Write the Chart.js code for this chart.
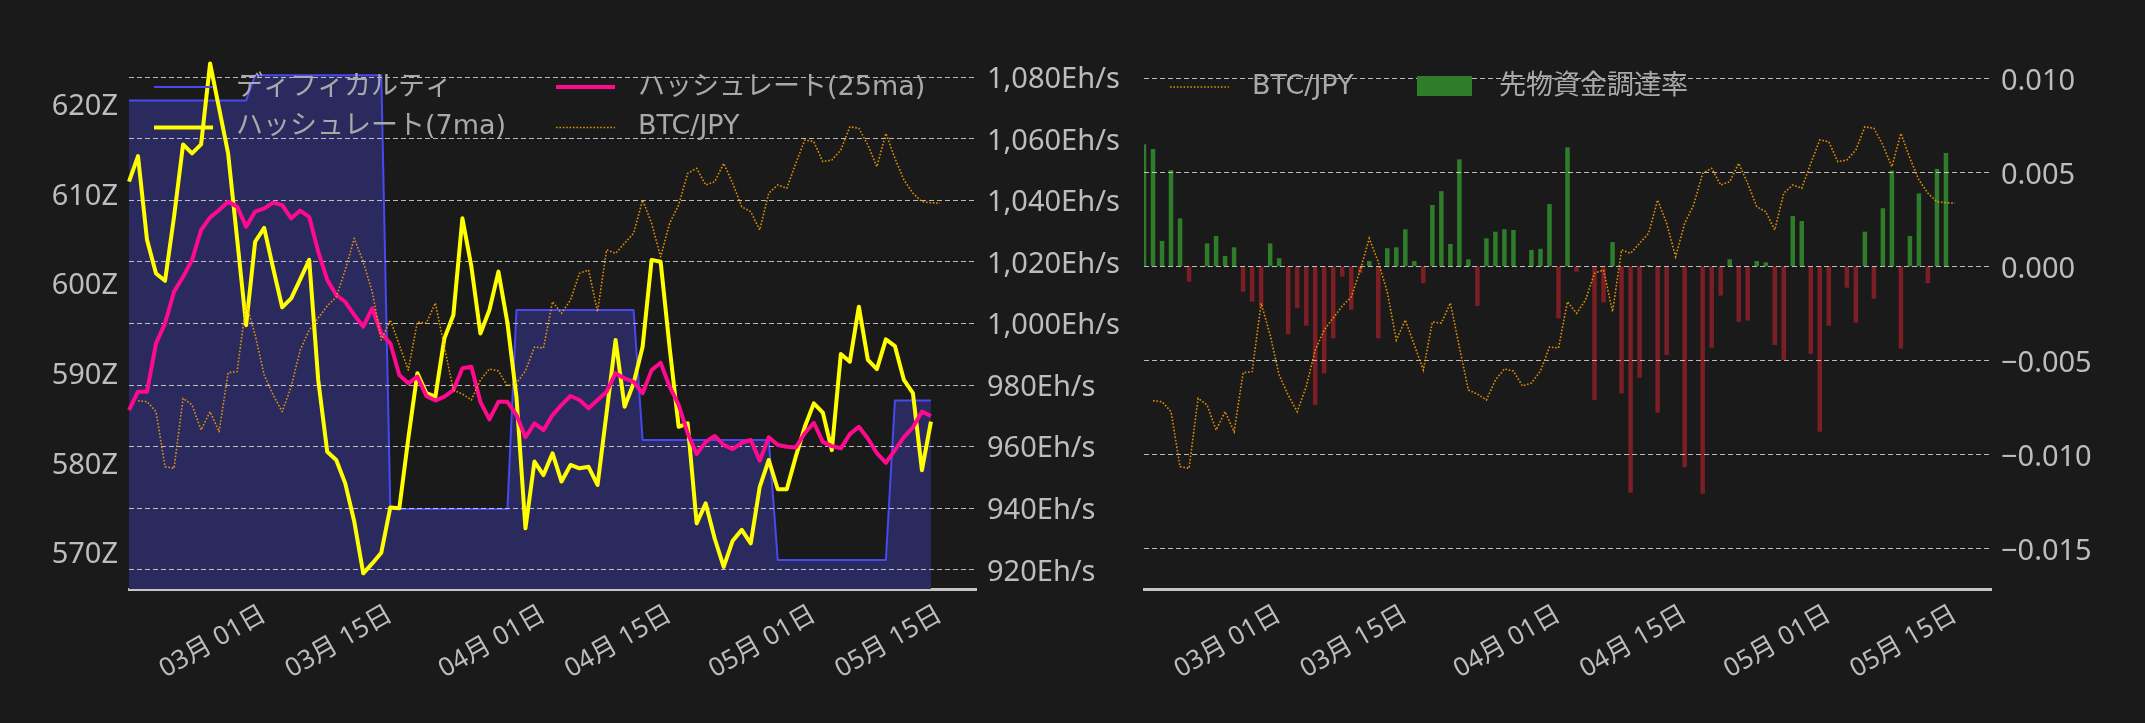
<!DOCTYPE html>
<html lang="ja">
<head>
<meta charset="utf-8">
<title>ハッシュレートと先物資金調達率</title>
<script src="https://cdn.jsdelivr.net/npm/chart.js@4.4.1/dist/chart.umd.min.js"></script>
<style>
  html, body { margin: 0; padding: 0; background: #1a1a1a; }
  body { width: 2145px; height: 723px; position: relative; overflow: hidden; }
  canvas { position: absolute; top: 0; }
  #left { left: 0; }
  #right { left: 1135px; }
</style>
</head>
<body>
<canvas id="left" width="1135" height="723"></canvas>
<canvas id="right" width="1010" height="723"></canvas>
<script>
// days on the x axis, 02/14 .. 05/19
const startDay = Date.UTC(2025, 1, 14);
const dayCount = 95;
const dates = [];
for (let i = 0; i < dayCount; i++) {
  const d = new Date(startDay + i * 86400000);
  dates.push(String(d.getUTCMonth() + 1).padStart(2, "0") + "-" + String(d.getUTCDate()).padStart(2, "0"));
}

// tick labels
const tickDates = ["03-01", "03-15", "04-01", "04-15", "05-01", "05-15"];
const diffTicks = [570, 580, 590, 600, 610, 620];
const hashTicks = [920, 940, 960, 980, 1000, 1020, 1040, 1060, 1080];
const fundTicks = [-0.015, -0.010, -0.005, 0, 0.005, 0.010];

// difficulty (Z), 02/14 .. 05/14
const difficulty = [
  620.4, 620.4, 620.4, 620.4, 620.4, 620.4, 620.4, 620.4, 620.4, 620.4, 620.4, 620.4, 620.4, 620.4,
  623.2, 623.2, 623.2, 623.2, 623.2, 623.2, 623.2, 623.2, 623.2, 623.2, 623.2, 623.2, 623.2, 623.2, 623.2,
  574.8, 574.8, 574.8, 574.8, 574.8, 574.8, 574.8, 574.8, 574.8, 574.8, 574.8, 574.8, 574.8, 574.8,
  597.0, 597.0, 597.0, 597.0, 597.0, 597.0, 597.0, 597.0, 597.0, 597.0, 597.0, 597.0, 597.0, 597.0,
  582.5, 582.5, 582.5, 582.5, 582.5, 582.5, 582.5, 582.5, 582.5, 582.5, 582.5, 582.5, 582.5, 582.5, 582.5,
  569.1, 569.1, 569.1, 569.1, 569.1, 569.1, 569.1, 569.1, 569.1, 569.1, 569.1, 569.1, 569.1,
  586.9, 586.9, 586.9, 586.9, 586.9
];

// hashrate 7 day MA (Eh/s)
const hash7 = [
  1045.9, 1054.2, 1027.0, 1016.1, 1013.7, 1034.5, 1058.0, 1055.1, 1058.0, 1084.3,
  1069.7, 1055.1, 1027.3, 999.3, 1026.4, 1030.9, 1017.8, 1005.1, 1008.0, 1014.2,
  1020.5, 981.5, 958.2, 955.5, 947.9, 935.5, 918.7, 921.9, 925.4, 940.1,
  939.8, 962.6, 983.7, 977.2, 976.1, 995.0, 1002.6, 1034.0, 1018.3, 996.6,
  1004.2, 1016.7, 1000.0, 976.0, 933.3, 955.0, 950.6, 957.7, 948.5, 953.9,
  952.8, 953.3, 947.4, 970.8, 994.5, 972.8, 980.4, 992.3, 1020.5, 1019.9,
  992.0, 966.3, 967.4, 934.9, 941.4, 930.0, 920.8, 929.3, 932.8, 928.4,
  946.8, 955.5, 946.0, 946.0, 956.6, 966.3, 973.9, 970.9, 958.7, 989.9,
  987.4, 1005.3, 988.0, 985.0, 994.7, 992.5, 981.5, 977.2, 952.2, 968.0
];

// hashrate 25 day MA (Eh/s)
const hash25 = [
  971.7, 977.7, 977.7, 993.4, 999.9, 1010.2, 1015.0, 1020.5, 1030.2, 1034.3,
  1036.7, 1039.4, 1037.8, 1031.3, 1036.2, 1037.2, 1039.1, 1038.3, 1034.0, 1036.5,
  1034.5, 1023.2, 1014.0, 1009.1, 1006.9, 1002.6, 998.8, 1004.8, 996.6, 993.4,
  983.1, 980.4, 982.6, 976.3, 974.8, 976.1, 978.2, 985.3, 985.8, 974.4,
  968.7, 974.4, 974.4, 970.1, 962.9, 967.4, 965.2, 970.1, 973.4, 976.3,
  975.0, 972.3, 975.0, 977.7, 983.7, 982.0, 980.9, 977.2, 984.7, 987.1,
  979.3, 973.4, 964.2, 957.4, 961.4, 963.3, 960.4, 959.0, 961.1, 962.0,
  955.3, 962.9, 960.4, 959.8, 959.6, 964.2, 967.6, 961.4, 960.0, 959.3,
  963.9, 966.3, 962.5, 957.7, 954.6, 958.7, 962.9, 966.1, 971.2, 969.8
];

// BTC/JPY close, 02/15 .. 05/15
const btcJpy = [null,
  12750000, 12741000, 12648000, 12137000, 12122000, 12772000, 12710000, 12478000, 12648000, 12462000,
  13010000, 13020000, 13655000, 13361000, 12989000, 12803000, 12648000, 12880000, 13221000, 13407000,
  13519000, 13630000, 13714000, 13965000, 14259000, 14039000, 13760000, 13314000, 13500000, 13268000,
  13035000, 13481000, 13472000, 13658000, 13249000, 12849000, 12812000, 12757000, 12942000, 13045000,
  13026000, 12887000, 12915000, 13026000, 13249000, 13240000, 13670000, 13562000, 13686000, 13934000,
  13965000, 13577000, 14151000, 14120000, 14213000, 14306000, 14615000, 14399000, 14088000, 14399000,
  14569000, 14863000, 14910000, 14755000, 14785000, 14956000, 14770000, 14553000, 14507000, 14336000,
  14678000, 14755000, 14724000, 14956000, 15173000, 15157000, 14971000, 14987000, 15080000, 15296000,
  15282000, 15126000, 14925000, 15235000, 15003000, 14801000, 14678000, 14599000, 14590000, 14585000
];

// futures funding rate, 02/14 .. 05/14
const funding = [
  0.00649, 0.00624, 0.00135, 0.00512, 0.00255, -0.00082, 0, 0.00122, 0.00161, 0.00055,
  0.00101, -0.00135, -0.00188, -0.00215, 0.00122, 0.00043, -0.00362, -0.00223, -0.00316, -0.00738,
  -0.00569, -0.00383, -0.00055, -0.00232, -0.00037, 0.00028, -0.00383, 0.00096, 0.00101, 0.00197,
  0.00028, -0.0009, 0.00326, 0.004, 0.00119, 0.00569, 0.00037, -0.00211, 0.00149, 0.00184,
  0.00197, 0.00193, -0.00005, 0.00087, 0.00093, 0.00331, -0.00277, 0.00633, -0.00029, 0,
  -0.00711, -0.00192, 0.00129, -0.00676, -0.01204, -0.00593, 0.00007, -0.00779, -0.00472, 0,
  -0.01069, 0, -0.0121, -0.00433, -0.00156, 0.00037, -0.00295, -0.00289, 0.00028, 0.00021,
  -0.00419, -0.00498, 0.00268, 0.00241, -0.00466, -0.0088, -0.00316, 0, -0.00114, -0.003,
  0.00184, -0.00172, 0.00309, 0.00509, -0.00438, 0.00161, 0.00388, -0.0009, 0.00518, 0.00603
];

const FONT = '"Noto Sans", "Noto Sans CJK JP", sans-serif';
const LEGEND_FONT = '"DejaVu Sans", "Noto Sans CJK JP", sans-serif';
const TICK_COLOR = "#bdbdbd";
const LEGEND_COLOR = "#a9a9a9";
const GRID_COLOR = "rgba(215,215,215,0.85)";
const BTC_COLOR = "rgba(255,165,0,0.85)";
const BTC_DASH = [1.6, 1.8];

function fixedTicks(list) {
  return (scale) => { scale.ticks = list.map((v) => ({ value: v })); };
}

function dateLabel(i) {
  const d = dates[i];
  if (!tickDates.includes(d)) return "";
  const [m, day] = d.split("-");
  return m + "月 " + day + "日";
}

// grid lines go above the fill / bars but under the lines
const gridAfter = {
  id: "gridAfter",
  afterDatasetDraw(chart, args, opts) {
    if (args.index !== opts.after) return;
    const sc = chart.scales[opts.scale];
    const { left, right } = chart.chartArea;
    const c = chart.ctx;
    c.save();
    c.strokeStyle = GRID_COLOR;
    c.lineWidth = 1.2;
    c.setLineDash([5, 3]);
    sc.ticks.forEach((t) => {
      const y = Math.round(sc.getPixelForValue(t.value)) + 0.5;
      c.beginPath();
      c.moveTo(left, y);
      c.lineTo(right, y);
      c.stroke();
    });
    c.restore();
  }
};

// legend drawn inside the plot, no frame
const legendBox = {
  id: "legendBox",
  afterDraw(chart, args, opts) {
    const c = chart.ctx;
    opts.items.forEach((it) => {
      const ds = chart.data.datasets[it.ds];
      c.save();
      if (it.patch) {
        c.fillStyle = it.color;
        c.fillRect(it.x, it.y - 10, 55, 20);
      } else {
        c.strokeStyle = it.color;
        c.lineWidth = it.width;
        c.setLineDash(it.dash || []);
        c.beginPath();
        c.moveTo(it.x, it.y);
        c.lineTo(it.x + 59, it.y);
        c.stroke();
      }
      c.setLineDash([]);
      c.fillStyle = LEGEND_COLOR;
      c.font = "27px " + LEGEND_FONT;
      c.textBaseline = "middle";
      c.fillText(ds.label, it.x + 82, it.y + (it.dy || 0));
      c.restore();
    });
  }
};

const xAxis = {
  type: "category",
  offset: false,
  grid: { display: false, drawTicks: false },
  border: { display: true, color: "#c4c4c4", width: 3 },
  ticks: {
    autoSkip: false,
    minRotation: 30,
    maxRotation: 30,
    padding: 10,
    color: TICK_COLOR,
    font: { family: FONT, size: 26 },
    callback: (v, i) => dateLabel(i)
  },
  afterFit: (s) => { s.height = 134; s.paddingLeft = 0; s.paddingRight = 0; }
};

const btcAxis = { display: false, position: "right", min: 11000000, max: 16000000 };

new Chart(document.getElementById("left"), {
  type: "line",
  data: {
    labels: dates,
    datasets: [
      {
        label: "ディフィカルティ",
        data: difficulty,
        yAxisID: "yDiff",
        borderColor: "#4848f0",
        borderWidth: 2,
        backgroundColor: "#2a2a5e",
        fill: "start",
        order: 3
      },
      {
        label: "ハッシュレート(7ma)",
        data: hash7,
        yAxisID: "yHash",
        borderColor: "#ffff00",
        borderWidth: 4,
        order: 2
      },
      {
        label: "ハッシュレート(25ma)",
        data: hash25,
        yAxisID: "yHash",
        borderColor: "#ff0a8f",
        borderWidth: 4,
        order: 1
      },
      {
        label: "BTC/JPY",
        data: btcJpy,
        yAxisID: "yBtc",
        borderColor: BTC_COLOR,
        borderWidth: 1.6,
        borderDash: BTC_DASH,
        order: 0
      }
    ]
  },
  options: {
    responsive: false,
    animation: false,
    layout: { padding: { top: 51, left: 0, right: 0, bottom: 0 } },
    elements: {
      point: { radius: 0 },
      line: { tension: 0, borderJoinStyle: "round" }
    },
    plugins: {
      legend: { display: false },
      tooltip: { enabled: false },
      gridAfter: { after: 0, scale: "yHash" },
      legendBox: {
        items: [
          { ds: 0, x: 154, y: 87, color: "#4848f0", width: 2, dy: 1 },
          { ds: 1, x: 154, y: 127.5, color: "#ffff00", width: 4, dy: -1 },
          { ds: 2, x: 556, y: 87, color: "#ff0a8f", width: 4, dy: 1 },
          { ds: 3, x: 556, y: 127.5, color: BTC_COLOR, width: 1.6, dash: BTC_DASH, dy: -1 }
        ]
      }
    },
    scales: {
      x: xAxis,
      yDiff: {
        position: "left",
        min: 565.87,
        max: 625.92,
        grid: { display: false, drawTicks: false },
        border: { display: false },
        afterBuildTicks: fixedTicks(diffTicks),
        ticks: {
          padding: 11,
          labelOffset: 3,
          color: TICK_COLOR,
          font: { family: FONT, size: 29 },
          callback: (v) => v + "Z"
        },
        afterFit: (s) => { s.width = 129; }
      },
      yHash: {
        position: "right",
        min: 913.6,
        max: 1088.35,
        grid: { display: false, drawTicks: false },
        border: { display: false },
        afterBuildTicks: fixedTicks(hashTicks),
        ticks: {
          padding: 11,
          labelOffset: 3,
          color: TICK_COLOR,
          font: { family: FONT, size: 29 },
          callback: (v) => v.toLocaleString("en-US") + "Eh/s"
        },
        afterFit: (s) => { s.width = 159; }
      },
      yBtc: btcAxis
    }
  },
  plugins: [gridAfter, legendBox]
});

new Chart(document.getElementById("right"), {
  type: "bar",
  data: {
    labels: dates,
    datasets: [
      {
        type: "bar",
        label: "先物資金調達率",
        data: funding,
        yAxisID: "yFund",
        backgroundColor: (ctx) => (ctx.raw >= 0 ? "#2f7d2a" : "#7b1e25"),
        barPercentage: 0.5,
        categoryPercentage: 1,
        order: 1
      },
      {
        type: "line",
        label: "BTC/JPY",
        data: btcJpy,
        yAxisID: "yBtc",
        borderColor: BTC_COLOR,
        borderWidth: 1.6,
        borderDash: BTC_DASH,
        pointRadius: 0,
        tension: 0,
        order: 0
      }
    ]
  },
  options: {
    responsive: false,
    animation: false,
    layout: { padding: { top: 51, left: 9, right: 0, bottom: 0 } },
    plugins: {
      legend: { display: false },
      tooltip: { enabled: false },
      gridAfter: { after: 0, scale: "yFund" },
      legendBox: {
        items: [
          { ds: 1, x: 35, y: 87, color: BTC_COLOR, width: 1.6, dash: BTC_DASH, dy: 0 },
          { ds: 0, x: 282, y: 86, color: "#2f7d2a", patch: true, dy: 1 }
        ]
      }
    },
    scales: {
      x: xAxis,
      yFund: {
        position: "right",
        min: -0.017165,
        max: 0.011452,
        grid: { display: false, drawTicks: false },
        border: { display: false },
        afterBuildTicks: fixedTicks(fundTicks),
        ticks: {
          padding: 10,
          labelOffset: 3,
          color: TICK_COLOR,
          font: { family: FONT, size: 29 },
          callback: (v) => (v < 0 ? "\u2212" : "") + Math.abs(v).toFixed(3)
        },
        afterFit: (s) => { s.width = 154; }
      },
      yBtc: btcAxis
    }
  },
  plugins: [gridAfter, legendBox]
});
</script>
</body>
</html>
